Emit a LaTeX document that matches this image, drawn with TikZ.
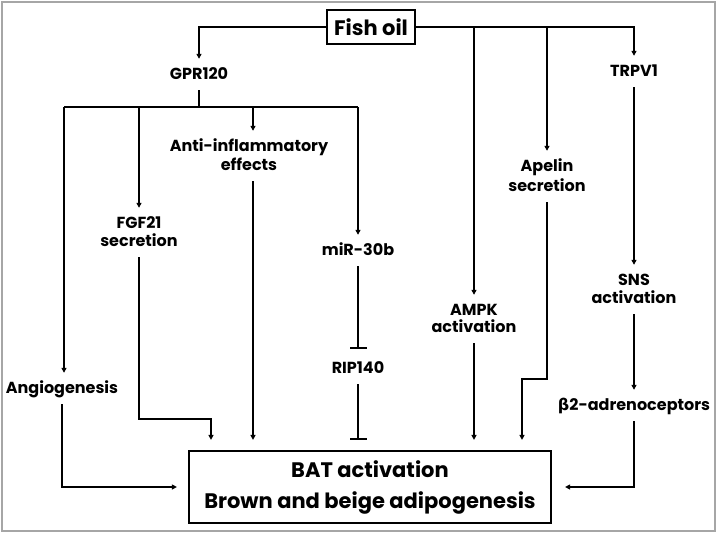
\documentclass[tikz,border=0pt]{standalone}
\usepackage{fontspec}
\setmainfont{Poppins}
\newfontfamily\grk{DejaVu Sans}
\usetikzlibrary{arrows.meta,calc}
\begin{document}
\begin{tikzpicture}[x=1pt,y=-1pt,
  lbl/.style={font=\bfseries\fontsize{16}{19}\selectfont, align=center, inner xsep=0pt, inner ysep=8pt, text height=12pt, text depth=3pt},
  two/.style={text height=#1},
  conn/.style={line width=1.6pt},
  arr/.style={conn, -{Triangle[length=5pt,width=5pt]}},
  inh/.style={conn, -{Bar[width=17pt,line width=1.6pt]}},
  boxed/.style={draw, line width=2.2pt, inner sep=0pt, align=center}
]
\useasboundingbox (0,0) rectangle (717,533);
\draw[gray!70, line width=2pt] (2,2) rectangle (715,531);

\node[boxed, minimum width=88pt, minimum height=34pt, font=\bfseries\fontsize{21}{26}\selectfont] (fish) at (371,27) {Fish oil};
\node[boxed, minimum width=362pt, minimum height=72pt, font=\bfseries\fontsize{21}{31}\selectfont] (bat) at (370,487) {BAT activation\\Brown and beige adipogenesis};

\node[lbl] (gpr) at (199,74.5) {GPR120};
\node[lbl] (trpv) at (634,71.5) {TRPV1};
\node[lbl, two=31pt] (anti) at (249,156) {Anti-inflammatory\\effects};
\node[lbl, two=32pt, font=\bfseries\fontsize{16}{20}\selectfont] (apelin) at (547,176.5) {Apelin\\secretion};
\node[lbl, two=30pt, font=\bfseries\fontsize{16}{18}\selectfont] (fgf) at (139,232.5) {FGF21\\secretion};
\node[lbl] (mir) at (358,250.5) {miR-30b};
\node[lbl, two=30pt, font=\bfseries\fontsize{16}{18}\selectfont] (sns) at (634,289.5) {SNS\\activation};
\node[lbl, two=29pt, font=\bfseries\fontsize{16}{17}\selectfont] (ampk) at (474,319) {AMPK\\activation};
\node[lbl] (rip) at (358,368.5) {RIP140};
\node[lbl] (angio) at (62,388.5) {Angiogenesis};
\node[lbl] (beta) at (634,405.5) {{\grk\bfseries β}2-adrenoceptors};

\coordinate (gbar) at (199,107);
\coordinate (bl) at (64,107);
\coordinate (br) at (358,107);
\coordinate (b2) at (139,107);
\coordinate (b3) at (253,107);
\coordinate (f1) at (474,27);
\coordinate (f2) at (547,27);
\coordinate (fgfk) at (211,419);
\coordinate (apk) at (522,379);

% Fish oil branches
\draw[arr] (fish.west) -| (gpr.north);
\draw[arr] (fish.east) -| (trpv.north);
\draw[arr] (f1) -- (f1 |- ampk.north);
\draw[arr] (f2) -- (apelin.north);

% GPR120 branches
\draw[conn] (gpr.south) -- (gbar);
\draw[conn] (bl) -- (br);
\draw[arr] (bl) -- (bl |- angio.north);
\draw[arr] (b2) -- (fgf.north);
\draw[arr] (b3) -- (b3 |- anti.north);
\draw[arr] (br) -- (mir.north);

% to BAT
\draw[arr, shorten >=11pt] (angio.south) |- (bat.west);
\draw[arr, shorten >=10pt] (fgf.south) |- (fgfk) -- (fgfk |- bat.north);
\draw[arr, shorten >=10pt] (b3 |- anti.south) -- (b3 |- bat.north);
\draw[inh, shorten >=4pt] (mir.south) -- (rip.north);
\draw[inh, shorten >=10pt] (rip.south) -- (rip.south |- bat.north);
\draw[arr, shorten >=10pt] (ampk.south) -- (ampk.south |- bat.north);
\draw[arr, shorten >=10pt] (apelin.south) |- (apk) -- (apk |- bat.north);
\draw[arr] (trpv.south) -- (sns.north);
\draw[arr] (sns.south) -- (beta.north);
\draw[arr, shorten >=13pt] (beta.south) |- (bat.east);
\end{tikzpicture}
\end{document}
